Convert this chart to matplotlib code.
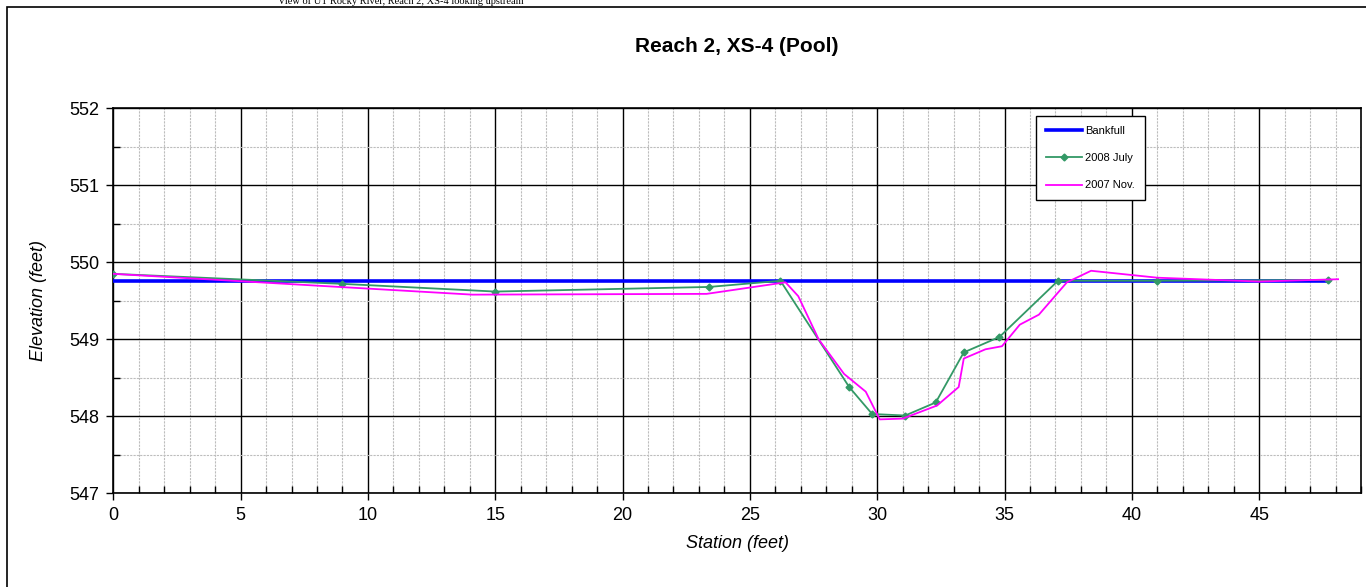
import matplotlib
matplotlib.use("Agg")
import matplotlib.pyplot as plt
from matplotlib.patches import Rectangle
from matplotlib.ticker import MultipleLocator

plt.rcParams['font.family'] = ['Liberation Sans', 'DejaVu Sans']

# Bankfull elevation line
bank_x = [0, 47.7]
bank_y = [549.76, 549.76]

# 2008 July survey
july_x = [0, 9.0, 15.0, 23.4, 26.2, 28.9, 29.8, 31.1, 32.3, 33.4, 34.8, 37.1, 41.0, 47.7]
july_y = [549.85, 549.72, 549.62, 549.68, 549.76, 548.38, 548.03, 548.01, 548.18,
          548.83, 549.03, 549.76, 549.76, 549.77]

# 2007 Nov. survey
nov_x = [0, 14.1, 23.3, 26.4, 26.9, 27.7, 28.7, 29.55, 30.1, 31.0, 32.35, 33.2, 33.4,
         34.25, 34.9, 35.6, 36.35, 37.45, 38.4, 41.0, 45.0, 48.1]
nov_y = [549.85, 549.58, 549.59, 549.74, 549.56, 549.0, 548.55, 548.32, 547.96, 547.97,
         548.14, 548.38, 548.75, 548.87, 548.91, 549.19, 549.32, 549.74, 549.89, 549.80,
         549.75, 549.78]

W, H = 1366, 587
fig = plt.figure(figsize=(W / 100, H / 100), dpi=100)

# outer chart frame (left and top edges visible, rest runs off the image)
fig.patches.append(Rectangle((7 / W, -0.05), 1.1, 1 - 7 / H + 0.05, transform=fig.transFigure,
                             fill=False, edgecolor='black', linewidth=1.2))

# photo caption from the page above, partly cut off like in the original
fig.text(401 / W, 1 - 1 / H, "View of UT Rocky River, Reach 2, XS-4 looking upstream",
         family='Liberation Serif', fontsize=7.5, ha='center', va='center')

ax = fig.add_axes([113.3 / W, 1 - 493.3 / H, (1361 - 113.3) / W, (493.3 - 108.3) / H])

ax.plot(bank_x, bank_y, color='#0000FF', linewidth=2.6, label='Bankfull', zorder=3)
ax.plot(july_x, july_y, color='#339966', linewidth=1.3, marker='D', markersize=3.5,
        label='2008 July', zorder=4)
ax.plot(nov_x, nov_y, color='#FF00FF', linewidth=1.3, label='2007 Nov.', zorder=5)

ax.set_xlim(0, 49)
ax.set_ylim(547, 552)
ax.xaxis.set_major_locator(MultipleLocator(5))
ax.xaxis.set_minor_locator(MultipleLocator(1))
ax.yaxis.set_major_locator(MultipleLocator(1))
ax.yaxis.set_minor_locator(MultipleLocator(0.5))
ax.set_xticks([0, 5, 10, 15, 20, 25, 30, 35, 40, 45])

ax.grid(which='major', color='black', linewidth=1.0, linestyle='-')
ax.grid(which='minor', color='#bdbdbd', linewidth=0.8, linestyle=(0, (2, 1)))
ax.set_axisbelow(True)

ax.tick_params(which='major', direction='out', length=5, width=1, labelsize=13, pad=5)
ax.tick_params(which='minor', direction='in', length=5, width=1)
for s in ax.spines.values():
    s.set_linewidth(1.2)

ax.set_xlabel('Station (feet)', fontsize=13, style='italic', labelpad=8)
ax.set_ylabel('Elevation (feet)', fontsize=13, style='italic', labelpad=16)

fig.text(737 / W, 1 - 46 / H, 'Reach 2, XS-4 (Pool)', fontsize=15, fontweight='bold',
         ha='center', va='center')

leg = ax.legend(loc='upper left', bbox_to_anchor=(0.7395, 0.98), borderaxespad=0,
                fontsize=8, frameon=True, fancybox=False, framealpha=1,
                edgecolor='black', labelspacing=1.55, handlelength=3.2,
                handletextpad=0.3, borderpad=0.9)
leg.get_frame().set_linewidth(1.0)

fig.savefig('out.png', dpi=100)
